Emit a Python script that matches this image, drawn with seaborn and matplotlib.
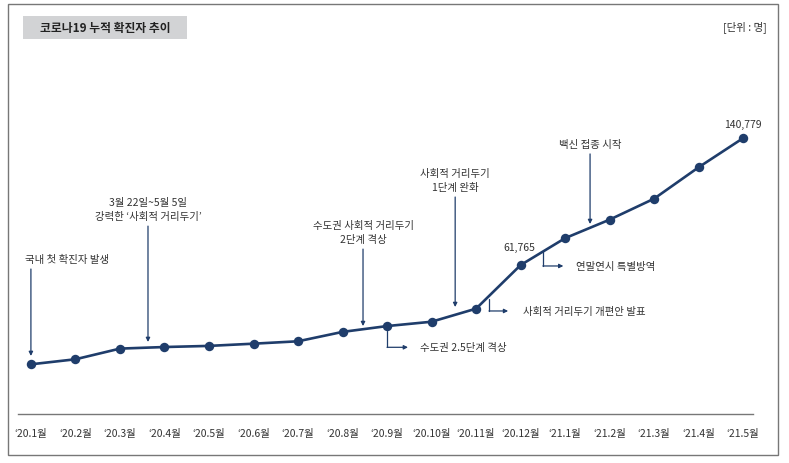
import matplotlib
matplotlib.use('Agg')
import matplotlib.pyplot as plt
import seaborn as sns
import pandas as pd
from matplotlib.patches import Rectangle

months = ["‘20.1월", "‘20.2월", "‘20.3월", "‘20.4월", "‘20.5월", "‘20.6월",
          "‘20.7월", "‘20.8월", "‘20.9월", "‘20.10월", "‘20.11월", "‘20.12월",
          "‘21.1월", "‘21.2월", "‘21.3월", "‘21.4월", "‘21.5월"]
cases = [11, 3150, 9790, 10770, 11470, 12850, 14340, 20180, 23810,
         26510, 34650, 61765, 78510, 90030, 103090, 122630, 140779]

NAVY = '#1f3d6b'
TXT = '#333333'

sns.set_theme(style='white')
plt.rcParams['font.family'] = ['Noto Sans CJK KR', 'DejaVu Sans']

df = pd.DataFrame({'idx': range(len(months)), 'cases': cases})

fig = plt.figure(figsize=(7.89, 4.64), dpi=100)
ax = fig.add_axes([18 / 789, 49 / 464, 735 / 789, 365 / 464])

sns.lineplot(data=df, x='idx', y='cases', ax=ax, color=NAVY, lw=1.9,
             marker='o', markersize=6.8, markeredgewidth=0, clip_on=False)

ax.set_xlim(-0.29, 16.22)
ax.set_ylim(-30900, 196200)
ax.set_xticks(range(len(months)))
ax.set_xticklabels(months, fontsize=7.5, color=TXT)
ax.tick_params(axis='x', length=0, pad=10)
ax.set_yticks([])
ax.set_xlabel('')
ax.set_ylabel('')
for s in ['top', 'right', 'left']:
    ax.spines[s].set_visible(False)
ax.spines['bottom'].set_color('#777777')
ax.spines['bottom'].set_linewidth(1.0)

fs = 7.5
arrow = dict(arrowstyle='-|>', color=NAVY, lw=0.9, mutation_scale=6,
             shrinkA=0, shrinkB=0)

# straight down arrows
def down(x, y_text, y0, y1, text, ha='center'):
    tx = x if ha == 'center' else x - 0.135
    ax.text(tx, y_text, text, ha=ha, va='center', fontsize=fs, color=TXT,
            linespacing=1.5)
    ax.annotate('', xy=(x, y1), xytext=(x, y0), arrowprops=arrow)

down(0, 65600, 59300, 5200, '국내 첫 확진자 발생', ha='left')
down(2.63, 96900, 86000, 13900, '3월 22일~5월 5일\n강력한 ‘사회적 거리두기’')
down(7.46, 82600, 71700, 23800, '수도권 사회적 거리두기\n2단계 격상')
down(9.53, 115000, 104100, 35650, '사회적 거리두기\n1단계 완화')
down(12.56, 137100, 130900, 87300, '백신 접종 시작')

# elbow arrows
def elbow(x, y0, y1, x1, tx, text):
    ax.plot([x, x], [y0, y1], color=NAVY, lw=0.9)
    ax.annotate('', xy=(x1, y1), xytext=(x, y1), arrowprops=arrow)
    ax.text(tx, y1, text, ha='left', va='center', fontsize=fs, color=TXT)

elbow(8.0, 20700, 10600, 8.47, 8.74, '수도권 2.5단계 격상')
elbow(10.29, 40600, 33200, 10.72, 11.06, '사회적 거리두기 개편안 발표')
elbow(11.5, 70500, 61200, 11.96, 12.25, '연말연시 특별방역')

ax.text(10.97, 73000, f'{cases[11]:,}', ha='center', va='center',
        fontsize=fs, color=TXT)
ax.text(16, 149500, f'{cases[16]:,}', ha='center', va='center',
        fontsize=fs, color=TXT)

# title box, unit and frame
fig.patches.append(Rectangle((23 / 789, 1 - 40 / 464), 164 / 789, 23 / 464,
                             transform=fig.transFigure, facecolor='#d2d3d5',
                             edgecolor='none', zorder=0))
fig.text(105 / 789, 1 - 28.5 / 464, '코로나19 누적 확진자 추이', ha='center',
         va='center', fontsize=8.5, fontweight='bold', color='#222222')
fig.text(767 / 789, 1 - 27 / 464, '[단위 : 명]', ha='right', va='center',
         fontsize=7.5, color=TXT)
fig.patches.append(Rectangle((8 / 789, 1 - 456 / 464), 770 / 789, 451 / 464,
                             transform=fig.transFigure, facecolor='none',
                             edgecolor='#777777', lw=1.0, zorder=0))

plt.savefig('out.png', dpi=100)
